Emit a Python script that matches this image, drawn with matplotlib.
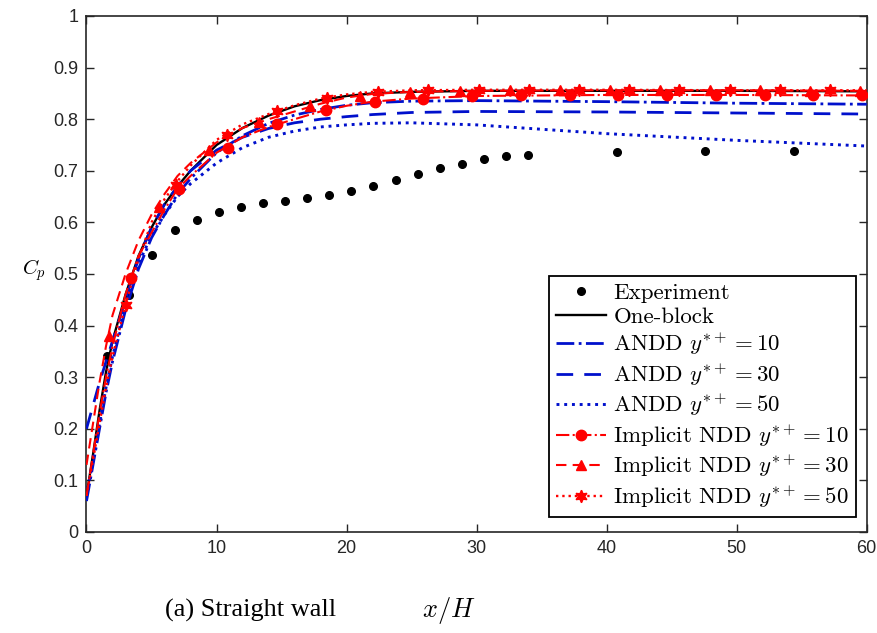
import matplotlib
matplotlib.use("Agg")
import matplotlib.pyplot as plt
from matplotlib.lines import Line2D

plt.rcParams["mathtext.fontset"] = "cm"

# experiment points
exp_x = [1.6, 3.3, 5.05, 6.77, 8.47, 10.19, 11.86, 13.55, 15.28, 16.98, 18.67,
         20.37, 22.07, 23.79, 25.46, 27.18, 28.85, 30.57, 32.27, 33.96,
         40.77, 47.56, 54.39]
exp_cp = [0.342, 0.46, 0.537, 0.585, 0.605, 0.621, 0.63, 0.637, 0.642, 0.647,
          0.653, 0.661, 0.67, 0.682, 0.693, 0.705, 0.713, 0.723, 0.728, 0.731,
          0.737, 0.738, 0.738]

# shared x grid for the simulation curves
xh = [0, 0.5, 1, 1.5, 2, 3, 4, 5, 6, 7, 8, 10, 12, 14, 16, 18, 20, 22, 25,
      30, 40, 50, 60]

one_block = [0.07, 0.15, 0.235, 0.31, 0.37, 0.46, 0.535, 0.59, 0.635, 0.67,
             0.70, 0.75, 0.783, 0.807, 0.825, 0.837, 0.845, 0.85, 0.853,
             0.855, 0.855, 0.855, 0.854]
andd_10 = [0.06, 0.13, 0.2, 0.27, 0.33, 0.43, 0.51, 0.57, 0.615, 0.655,
           0.685, 0.735, 0.768, 0.792, 0.808, 0.819, 0.827, 0.832, 0.835,
           0.836, 0.834, 0.831, 0.829]
andd_30 = [0.2, 0.245, 0.29, 0.33, 0.37, 0.45, 0.53, 0.59, 0.635, 0.67,
           0.70, 0.74, 0.765, 0.782, 0.793, 0.80, 0.805, 0.809, 0.813,
           0.815, 0.814, 0.812, 0.81]
andd_50 = [0.07, 0.14, 0.21, 0.28, 0.34, 0.44, 0.52, 0.575, 0.615, 0.65,
           0.675, 0.715, 0.745, 0.765, 0.777, 0.785, 0.789, 0.792, 0.793,
           0.789, 0.772, 0.759, 0.748]
indd_10 = [0.07, 0.15, 0.23, 0.30, 0.36, 0.46, 0.535, 0.58, 0.625, 0.665,
           0.69, 0.735, 0.765, 0.785, 0.80, 0.815, 0.826, 0.834, 0.84,
           0.845, 0.847, 0.847, 0.846]
indd_30 = [0.13, 0.21, 0.29, 0.36, 0.42, 0.50, 0.565, 0.615, 0.655, 0.69,
           0.715, 0.755, 0.783, 0.80, 0.815, 0.83, 0.842, 0.849, 0.853,
           0.855, 0.856, 0.856, 0.855]
indd_50 = [0.07, 0.14, 0.21, 0.28, 0.34, 0.44, 0.53, 0.60, 0.645, 0.68,
           0.71, 0.76, 0.79, 0.81, 0.827, 0.84, 0.848, 0.853, 0.856,
           0.857, 0.857, 0.856, 0.856]

# marker positions on the implicit NDD curves
circ_x = [3.4, 7.15, 10.9, 14.65, 18.4, 22.15, 25.9, 29.65, 33.4, 37.15,
          40.9, 44.65, 48.4, 52.15, 55.9, 59.65]
circ_cp = [0.493, 0.665, 0.745, 0.79, 0.818, 0.834, 0.84, 0.845, 0.846,
           0.847, 0.847, 0.847, 0.847, 0.846, 0.846, 0.846]
tri_x = [1.73, 5.6, 9.45, 13.3, 17.15, 21.0, 24.85, 28.7, 32.55, 36.4,
         40.25, 44.1, 47.95, 51.8, 55.65, 59.5]
tri_cp = [0.38, 0.63, 0.74, 0.794, 0.825, 0.845, 0.853, 0.855, 0.856, 0.856,
          0.856, 0.856, 0.856, 0.856, 0.855, 0.855]
star_x = [3.0, 6.9, 10.8, 14.65, 18.5, 22.4, 26.3, 30.15, 34.0, 37.9,
          41.75, 45.6, 49.5, 53.35, 57.2]
star_cp = [0.44, 0.672, 0.77, 0.816, 0.841, 0.853, 0.856, 0.857, 0.857,
           0.857, 0.857, 0.856, 0.856, 0.856, 0.856]

labels = ["Experiment",
          "One-block",
          r"ANDD $y^{*+}=10$",
          r"ANDD $y^{*+}=30$",
          r"ANDD $y^{*+}=50$",
          r"Implicit NDD $y^{*+}=10$",
          r"Implicit NDD $y^{*+}=30$",
          r"Implicit NDD $y^{*+}=50$"]

BLUE = "#0010CC"
RED = "#FF0000"
LW = 1.7
STAR = (6, 1, 0)

W, H = 878, 633
fig = plt.figure(figsize=(W / 100, H / 100), dpi=100)
ax = fig.add_axes([86.5 / W, 1 - 532 / H, (866.7 - 86.5) / W, (532 - 16) / H])

ax.plot(exp_x, exp_cp, "o", color="black", ms=5.5, ls="none", zorder=2)
ax.plot(xh, one_block, "-", color="black", lw=LW, zorder=3)
ax.plot(xh, andd_10, "-.", color=BLUE, lw=LW + 0.3, zorder=3)
ax.plot(xh, andd_30, color=BLUE, lw=LW + 0.3, dashes=(6, 4), zorder=3)
ax.plot(xh, andd_50, ":", color=BLUE, lw=LW + 0.4, zorder=3)
ax.plot(xh, indd_10, "-.", color=RED, lw=LW - 0.2, zorder=4)
ax.plot(xh, indd_30, color=RED, lw=LW - 0.2, dashes=(5, 3), zorder=4)
ax.plot(xh, indd_50, ":", color=RED, lw=LW, zorder=4)
ax.plot(circ_x, circ_cp, "o", color=RED, ms=7.5, ls="none", zorder=5)
ax.plot(tri_x, tri_cp, "^", color=RED, ms=7.5, ls="none", zorder=5)
ax.plot(star_x, star_cp, marker=STAR, color=RED, ms=9, ls="none", zorder=5)

handles = [
    Line2D([], [], ls="none", marker="o", color="black", ms=5.5),
    Line2D([], [], ls="-", color="black", lw=LW),
    Line2D([], [], ls="-.", color=BLUE, lw=LW + 0.3),
    Line2D([], [], color=BLUE, lw=LW + 0.3, dashes=(6, 4)),
    Line2D([], [], ls=":", color=BLUE, lw=LW + 0.4),
    Line2D([], [], ls="-.", color=RED, lw=LW - 0.2, marker="o", ms=7.5),
    Line2D([], [], color=RED, lw=LW - 0.2, dashes=(5, 3), marker="^", ms=7.5),
    Line2D([], [], ls=":", color=RED, lw=LW, marker=STAR, ms=9),
]
leg = ax.legend(handles, labels, loc="lower right",
                bbox_to_anchor=(0.986, 0.03), borderaxespad=0,
                prop={"family": "cmr10", "size": 16.5},
                handlelength=2.2, handletextpad=0.3,
                labelspacing=0.17, borderpad=0.3, numpoints=1,
                fancybox=False, framealpha=1, edgecolor="black")
leg.get_frame().set_linewidth(1.3)

ax.set_xlim(0, 60)
ax.set_ylim(0, 1)
ax.set_xticks(range(0, 61, 10))
ax.set_yticks([i / 10 for i in range(11)])
ax.set_yticklabels(["0", "0.1", "0.2", "0.3", "0.4", "0.5", "0.6", "0.7",
                    "0.8", "0.9", "1"])
ax.tick_params(direction="in", top=True, right=True, length=6, width=1,
               labelsize=13, colors="#262626", pad=6)
for lab in ax.get_xticklabels() + ax.get_yticklabels():
    lab.set_fontfamily("Liberation Sans")
    lab.set_color("#262626")
for s in ax.spines.values():
    s.set_linewidth(1.2)
    s.set_color("#262626")

fig.text(34 / W, 1 - 270 / H, r"$C_p$", fontsize=15, ha="center", va="center")
fig.text(449 / W, 1 - 610 / H, r"$x/H$", fontsize=19, ha="center", va="center")
fig.text(251 / W, 1 - 610 / H, "(a) Straight wall", fontsize=19,
         family="Liberation Serif", ha="center", va="center")

fig.savefig("out.png", dpi=100)
